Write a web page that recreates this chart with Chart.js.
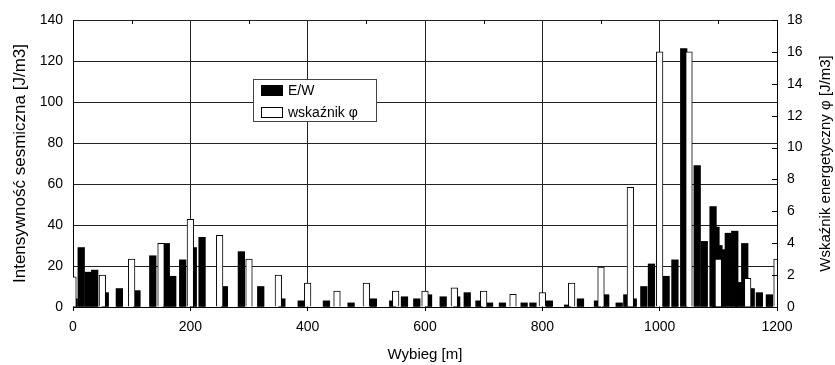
<!DOCTYPE html>
<html>
<head>
<meta charset="utf-8">
<script src="https://cdn.jsdelivr.net/npm/chart.js@4"></script>
<style>
  html, body { margin: 0; padding: 0; background: #fff; }
  #wrap { width: 835px; height: 365px; }
</style>
</head>
<body>
<div id="wrap"><canvas id="chart" width="835" height="365"></canvas></div>
<script>
// E/W - intensywnosc sejsmiczna (lewa os)
const ewPositions = [2, 14, 26, 37, 55, 79, 109, 136, 159, 170, 187, 205, 220, 258, 287,
  320, 356, 389, 432, 474, 512, 545, 565, 586, 606, 631, 654, 672, 692, 710,
  732, 769, 784, 812, 843, 865, 894, 908, 931, 944, 955, 973, 986, 1011, 1026,
  1041, 1064, 1076, 1091, 1096, 1101, 1106, 1117, 1128, 1134, 1145, 1156, 1170, 1187];
const ewValues = [4, 29, 17, 18, 7, 9, 8, 25, 31, 15, 23, 29, 34, 10, 27,
  10, 4, 3, 3, 2, 4, 3, 5, 4, 6, 5, 5, 7, 3, 2,
  2, 2, 2, 3, 1, 4, 3, 6, 2, 6, 4, 10, 21, 15, 23,
  126, 69, 32, 49, 39, 30, 28, 36, 37, 12, 31, 9, 7, 6];

// wskaznik energetyczny phi (prawa os), co 50 m
const phiPositions = [0, 50, 100, 150, 200, 250, 300, 350, 400, 450, 500, 550, 600,
  650, 700, 750, 800, 850, 900, 950, 1000, 1050, 1100, 1150, 1200];
const phiValues = [1.9, 2.0, 3.0, 4.0, 5.5, 4.5, 3.0, 2.0, 1.5, 1.0, 1.5, 1.0, 1.0,
  1.2, 1.0, 0.8, 0.9, 1.5, 2.5, 7.5, 16.0, 16.0, 3.0, 1.8, 3.0];

const xTickValues = [0, 200, 400, 600, 800, 1000, 1200];
const topTickValues = [100, 300, 500, 700, 900, 1100];
const yTickValues = [0, 20, 40, 60, 80, 100, 120, 140];
const y1TickValues = [0, 2, 4, 6, 8, 10, 12, 14, 16, 18];

const labelEW = "E/W";
const labelPhi = "wskaźnik φ";
const xTitle = "Wybieg [m]";
const yTitle = "Intensywność sesmiczna [J/m3]";
const y1Title = "Wskaźnik energetyczny φ [J/m3]";

const FONT = "'Liberation Sans', Arial, sans-serif";

function setTicks(values) {
  return scale => { scale.ticks = values.map(v => ({ value: v })); };
}
const plainLabel = v => String(v);

const extras = {
  id: "extras",
  afterDraw(chart) {
    const { ctx, chartArea, scales } = chart;
    ctx.save();
    ctx.strokeStyle = "#000";
    ctx.lineWidth = 1;
    ctx.beginPath();
    // inward ticks on the right axis
    scales.y1.ticks.forEach(t => {
      const py = Math.round(scales.y1.getPixelForValue(t.value)) + 0.5;
      ctx.moveTo(chartArea.right - 5, py);
      ctx.lineTo(chartArea.right, py);
    });
    // small ticks hanging from the top
    topTickValues.forEach(v => {
      const px = Math.round(scales.x.getPixelForValue(v)) + 0.5;
      ctx.moveTo(px, chartArea.top);
      ctx.lineTo(px, chartArea.top + 4);
    });
    ctx.stroke();

    // legend box
    const lx = 253, ly = 79, lw = 123, lh = 42;
    ctx.fillStyle = "#fff";
    ctx.fillRect(lx, ly, lw, lh);
    ctx.strokeStyle = "#444";
    ctx.strokeRect(lx + 0.5, ly + 0.5, lw, lh);
    ctx.fillStyle = "#000";
    ctx.fillRect(261, 85, 22, 11);
    ctx.fillStyle = "#fff";
    ctx.fillRect(261, 107, 22, 11);
    ctx.strokeStyle = "#000";
    ctx.strokeRect(261.5, 107.5, 21, 10);
    ctx.fillStyle = "#000";
    ctx.font = "14px " + FONT;
    ctx.textAlign = "left";
    ctx.textBaseline = "middle";
    ctx.fillText(labelEW, 288, 91);
    ctx.fillText(labelPhi, 288, 113);

    // right axis title, reading bottom to top
    ctx.font = "15px " + FONT;
    ctx.textAlign = "center";
    ctx.translate(826, (chartArea.top + chartArea.bottom) / 2);
    ctx.rotate(-Math.PI / 2);
    ctx.fillText(y1Title, 0, 0);
    ctx.restore();
  }
};

new Chart(document.getElementById("chart"), {
  type: "bar",
  data: {
    datasets: [
      {
        label: labelEW,
        data: ewPositions.map((x, i) => ({ x, y: ewValues[i] })),
        yAxisID: "y",
        backgroundColor: "#000",
        borderWidth: 0,
        barThickness: 6.6,
        grouped: false,
        order: 2,
        clip: 0
      },
      {
        label: labelPhi,
        data: phiPositions.map((x, i) => ({ x, y: phiValues[i] })),
        yAxisID: "y1",
        backgroundColor: "#fff",
        borderColor: "#000",
        borderWidth: 1,
        barThickness: 6.6,
        grouped: false,
        order: 1,
        clip: 0
      }
    ]
  },
  options: {
    responsive: false,
    animation: false,
    layout: { padding: { top: 20, left: 0, right: 0, bottom: 0 } },
    plugins: { legend: { display: false }, tooltip: { enabled: false } },
    scales: {
      x: {
        type: "linear",
        min: 0,
        max: 1200,
        offset: false,
        afterBuildTicks: setTicks(xTickValues),
        afterFit: s => { s.height = 58; },
        grid: { color: "#222", offset: false, drawTicks: true, tickLength: 4, tickColor: "#000" },
        border: { display: true, color: "#000" },
        ticks: { color: "#000", font: { family: FONT, size: 14 }, padding: 8, maxRotation: 0, callback: plainLabel },
        title: { display: true, text: xTitle, color: "#000", font: { family: FONT, size: 15 }, padding: { top: 0, bottom: 1 } }
      },
      y: {
        position: "left",
        min: 0,
        max: 140,
        afterBuildTicks: setTicks(yTickValues),
        afterFit: s => { s.width = 73; },
        grid: { color: "#222", drawTicks: false },
        border: { display: true, color: "#000" },
        ticks: { color: "#000", font: { family: FONT, size: 14 }, padding: 10, callback: plainLabel },
        title: { display: true, text: yTitle, color: "#000", font: { family: FONT, size: 17 }, padding: { top: 10, bottom: 0 } }
      },
      y1: {
        position: "right",
        min: 0,
        max: 18,
        afterBuildTicks: setTicks(y1TickValues),
        afterFit: s => { s.width = 58; },
        grid: { drawOnChartArea: false, drawTicks: false },
        border: { display: true, color: "#000" },
        ticks: { color: "#000", font: { family: FONT, size: 14 }, padding: 10, callback: plainLabel }
      }
    }
  },
  plugins: [extras]
});
</script>
</body>
</html>
